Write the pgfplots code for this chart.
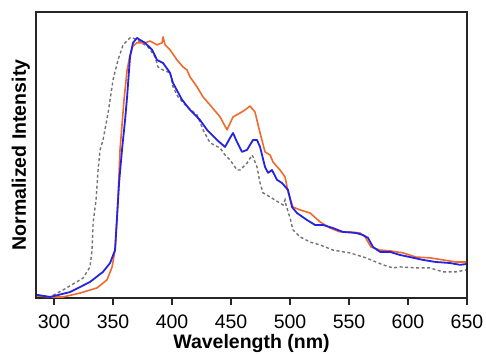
\documentclass[border=0pt]{standalone}
\usepackage{fontspec}
\setmainfont{Liberation Sans}
\usepackage{pgfplots}
\pgfplotsset{compat=1.18}
\definecolor{corange}{RGB}{240,105,45}
\definecolor{cblue}{RGB}{35,35,225}
\definecolor{cgray}{RGB}{115,115,115}
\begin{document}
\begin{tikzpicture}
\useasboundingbox (-36pt,-57pt) rectangle (450pt,298pt);
\begin{axis}[
  scale only axis,
  width=431pt, height=286pt,
  xmin=284.7, xmax=650, ymin=-0.004, ymax=1.1,
  xtick={300,350,...,650},
  ytick=\empty,
  xtick pos=bottom,
  tick align=outside,
  major tick length=6.5pt,
  every tick/.style={line width=2pt, black!85},
  axis line style={line width=2.2pt, black!85},
  /pgf/number format/assume math mode=true,
  /pgf/number format/1000 sep={},
  tick label style={font=\fontsize{19.5}{23}\selectfont},
  xticklabel style={yshift=-7pt},
  label style={font=\fontsize{19.5}{23}\selectfont\bfseries},
  xlabel={Wavelength (nm)},
  ylabel={Normalized Intensity},
  xlabel style={yshift=1pt},
  ylabel style={yshift=-4pt},
  clip=true,
]
\addplot[cgray, line width=1.4pt, dash pattern=on 3pt off 2.5pt] coordinates {
(285.6,0.008) (296.6,0.0) (307.6,0.027) (324.6,0.073) (330.5,0.116) (332.2,0.181)
(333.1,0.286) (335.6,0.375) (337.3,0.490) (339.0,0.568) (341.5,0.606) (345.8,0.710)
(350.0,0.838) (354.2,0.915) (358.5,0.973) (364.4,1.000) (366.9,1.000) (372.9,0.985)
(379.7,0.965) (385.6,0.927) (388.1,0.888) (392.4,0.876) (398.3,0.865) (400.8,0.811)
(405.1,0.772) (412.7,0.734) (421.2,0.703) (426.3,0.645) (432.2,0.595) (440.7,0.575)
(444.9,0.548) (449.2,0.529) (455.1,0.490) (457.6,0.490) (463.6,0.517) (467.8,0.548)
(468.6,0.541) (472.0,0.502) (474.6,0.440) (477.1,0.402) (483.1,0.386) (489.8,0.367)
(494.1,0.355) (495.8,0.375) (496.6,0.355) (500.0,0.305) (502.5,0.259) (508.5,0.232)
(517.0,0.212) (525.4,0.201) (536.4,0.181) (550.8,0.170) (564.4,0.151) (578.8,0.124)
(587.3,0.112) (593.2,0.116) (606.8,0.112) (618.6,0.112) (629.7,0.097) (640.7,0.097)
(649.2,0.104)
};
\addplot[corange, line width=1.6pt, line join=round] coordinates {
(285.6,0.004) (296.6,0.0) (307.6,0.0) (322.0,0.015) (336.4,0.035) (344.9,0.066)
(349.2,0.116) (351.7,0.181) (354.2,0.375) (355.9,0.568) (359.3,0.761) (361.9,0.876)
(364.4,0.934) (366.9,0.969) (370.3,0.981) (377.1,0.981) (381.4,0.988) (387.3,0.973)
(391.5,0.981) (392.4,1.004) (394.1,0.973) (398.3,0.954) (404.2,0.915) (409.3,0.888)
(412.7,0.876) (415.3,0.849) (421.2,0.811) (426.3,0.772) (432.2,0.741) (440.7,0.695)
(446.6,0.645) (451.7,0.695) (457.6,0.710) (461.9,0.722) (466.1,0.737) (470.3,0.714)
(474.6,0.633) (478.8,0.560) (483.1,0.548) (485.6,0.521) (491.5,0.490) (495.8,0.463)
(498.3,0.405) (502.5,0.347) (508.5,0.336) (517.0,0.324) (525.4,0.290) (533.9,0.266)
(542.4,0.251) (550.8,0.251) (559.3,0.247) (563.6,0.232) (568.6,0.193) (576.3,0.181)
(584.7,0.178) (595.8,0.170) (606.8,0.154) (618.6,0.151) (629.7,0.143) (640.7,0.135)
(649.2,0.135)
};
\addplot[cblue, line width=1.8pt, line join=round] coordinates {
(285.6,0.008) (296.6,0.0) (313.6,0.019) (330.5,0.058) (341.5,0.097) (347.5,0.131)
(351.7,0.181) (353.4,0.309) (355.1,0.440) (357.6,0.568) (360.2,0.683) (361.9,0.772)
(364.4,0.927) (366.9,0.981) (370.3,1.000) (372.9,0.992) (377.1,0.981) (383.1,0.954)
(387.3,0.915) (392.4,0.903) (398.3,0.865) (400.8,0.826) (408.5,0.761) (415.3,0.722)
(423.7,0.683) (429.7,0.645) (432.2,0.633) (438.1,0.606) (444.9,0.579) (449.2,0.614)
(451.7,0.633) (455.1,0.598) (459.3,0.560) (463.6,0.568) (468.6,0.606) (472.0,0.606)
(474.6,0.579) (478.8,0.502) (481.4,0.479) (484.7,0.490) (489.0,0.452) (493.2,0.440)
(498.3,0.413) (501.7,0.347) (505.9,0.324) (514.4,0.297) (521.2,0.278) (528.0,0.278)
(536.4,0.266) (544.9,0.251) (555.9,0.247) (561.9,0.239) (566.1,0.228) (570.3,0.193)
(576.3,0.174) (584.7,0.174) (593.2,0.162) (601.7,0.154) (612.7,0.143) (623.7,0.135)
(635.6,0.131) (644.1,0.124) (649.2,0.127)
};
\end{axis}
\end{tikzpicture}
\end{document}
